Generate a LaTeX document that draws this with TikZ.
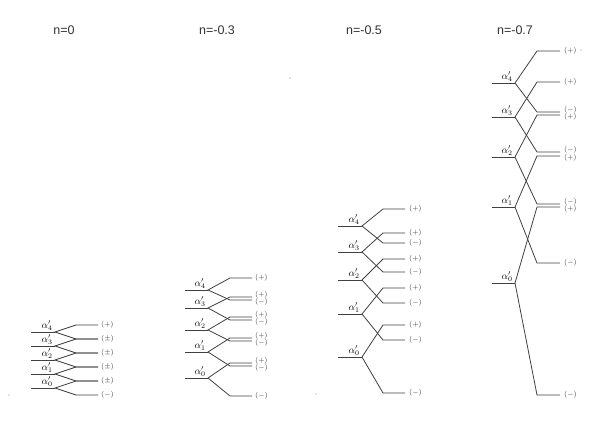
\documentclass[tikz,border=0pt]{standalone}
\usepackage{fontspec}
\setsansfont{Liberation Sans}
\usetikzlibrary{positioning}
\tikzset{
  lvl/.style={draw=black!75, line width=0.8pt},
  ttl/.style={font=\sffamily\fontsize{12.5}{14}\selectfont, text=black!80},
  alab/.style={font=\fontsize{10}{12}\selectfont, anchor=south east, inner sep=1pt, xshift=-1pt},
  sgn/.style={font=\fontsize{7}{7}\selectfont, anchor=west, inner sep=1pt, text=black!80},
  speck/.style={fill=black!45, circle, inner sep=0.5pt}
}

\begin{document}
\begin{tikzpicture}[x=1pt,y=-1pt]
  \useasboundingbox (0,0) rectangle (592,442);
  % titles
  \node[ttl] (t0) at (64,30) {n=0};
  \node[ttl] (t3) at (217,30) {n=-0.3};
  \node[ttl] (t5) at (364,30) {n=-0.5};
  \node[ttl] (t7) at (515,30) {n=-0.7};

  % n=0
  \foreach \k/\y/\yu/\yd in {4/332/325/339,3/346/339/353,2/360/353/367,1/374/367/381,0/388/381/395}{
    \coordinate (p0a\k) at (31,\y);
    \coordinate (p0b\k) at (55,\y);
    \coordinate (p0u\k) at (76,\yu);
    \coordinate (p0ue\k) at (98,\yu);
    \coordinate (p0d\k) at (76,\yd);
    \coordinate (p0de\k) at (98,\yd);
    \draw[lvl] (p0a\k) -- (p0b\k) node[alab] (p0l\k) {$\alpha'_{\k}$};
    \draw[lvl] (p0ue\k) -- (p0u\k) -- (p0b\k) -- (p0d\k) -- (p0de\k);
  }
  \foreach \y/\s in {325/+,339/\pm,353/\pm,367/\pm,381/\pm,395/-}
    \node[sgn] (p0s\y) at (100,\y) {$(\s)$};

  % n=-0.3
  \foreach \k/\y/\yu/\yd in {4/290/278/300,3/308/297/320,2/330/317/341,1/352/338/366,0/378/363/396}{
    \coordinate (p3a\k) at (185,\y);
    \coordinate (p3b\k) at (208,\y);
    \coordinate (p3u\k) at (230,\yu);
    \coordinate (p3ue\k) at (252,\yu);
    \coordinate (p3d\k) at (230,\yd);
    \coordinate (p3de\k) at (252,\yd);
    \draw[lvl] (p3a\k) -- (p3b\k) node[alab] (p3l\k) {$\alpha'_{\k}$};
    \draw[lvl] (p3ue\k) -- (p3u\k) -- (p3b\k) -- (p3d\k) -- (p3de\k);
  }
  \foreach \y/\s in {278/+,295/+,302/-,315/+,322/-,336/+,343/-,361/+,368/-,396/-}
    \node[sgn] (p3s\y) at (254,\y) {$(\s)$};

  % n=-0.5
  \foreach \k/\y/\yu/\yd in {4/226/209/243,3/252/233/272,2/280/259/303,1/314/288/340,0/357/325/393}{
    \coordinate (p5a\k) at (338,\y);
    \coordinate (p5b\k) at (362,\y);
    \coordinate (p5u\k) at (383,\yu);
    \coordinate (p5ue\k) at (405,\yu);
    \coordinate (p5d\k) at (383,\yd);
    \coordinate (p5de\k) at (405,\yd);
    \draw[lvl] (p5a\k) -- (p5b\k) node[alab] (p5l\k) {$\alpha'_{\k}$};
    \draw[lvl] (p5ue\k) -- (p5u\k) -- (p5b\k) -- (p5d\k) -- (p5de\k);
  }
  \foreach \y/\s in {209/+,233/+,243/-,259/+,272/-,288/+,303/-,325/+,340/-,393/-}
    \node[sgn] (p5s\y) at (408,\y) {$(\s)$};

  % n=-0.7
  \foreach \k/\y/\yu/\yd in {4/83/51/112,3/117/82/152,2/157/115/204,1/207/156/263,0/283/207/395}{
    \coordinate (p7a\k) at (492,\y);
    \coordinate (p7b\k) at (515,\y);
    \coordinate (p7u\k) at (537,\yu);
    \coordinate (p7ue\k) at (560,\yu);
    \coordinate (p7d\k) at (537,\yd);
    \coordinate (p7de\k) at (560,\yd);
    \draw[lvl] (p7a\k) -- (p7b\k) node[alab] (p7l\k) {$\alpha'_{\k}$};
    \draw[lvl] (p7ue\k) -- (p7u\k) -- (p7b\k) -- (p7d\k) -- (p7de\k);
  }
  \foreach \y/\s in {51/+,82/+,110/-,117/+,150/-,158/+,202/-,209/+,263/-,395/-}
    \node[sgn] (p7s\y) at (563,\y) {$(\s)$};

  % stray specks
  \node[speck] (k1) at (9,395) {};
  \node[speck] (k2) at (290,78) {};
  \node[speck] (k3) at (316,394) {};
  \node[speck] (k4) at (581,50) {};
\end{tikzpicture}
\end{document}
